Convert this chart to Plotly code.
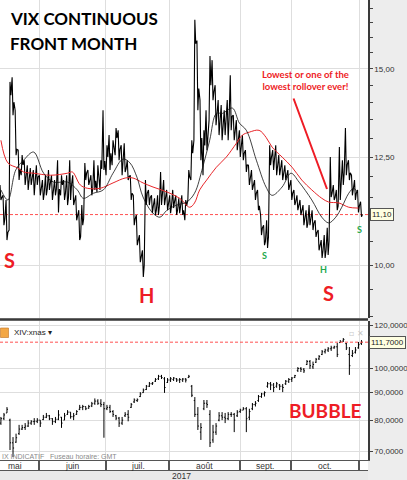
import math
import plotly.graph_objects as go

# ---------------- DATA ----------------
MONTHS = ["mai", "juin", "juil.", "août", "sept.", "oct."]
YEAR_LABEL = "2017"

VIX_HIGH = [11.8, 11.55, 11.44, 14.6, 14.74, 13.77, 12.68, 12.55, 12.42, 12.29,
            12.22, 12.17, 12.29, 12.04, 11.92, 12.04, 12.17, 12.04, 11.92, 12.42,
            12.04, 11.92, 12.04, 12.42, 12.04, 11.55, 11.2, 11.32, 12.35, 12.17,
            12.04, 12.42, 12.29, 12.42, 13.77, 12.81, 13.08, 12.94, 13.27, 13.21,
            12.81, 12.86, 12.42, 12.04, 11.55, 11.09, 10.64, 10.31, 11.92, 11.68,
            11.55, 11.48, 11.55, 12.12, 11.92, 11.68, 11.55, 11.68, 11.55, 11.48,
            11.55, 11.44, 12.17, 12.94, 16.6, 15.9, 14.06, 13.21, 13.77, 15.4,
            15.27, 14.5, 14.06, 13.92, 13.77, 14.06, 14.8, 13.63, 13.49, 13.21,
            13.08, 12.68, 12.29, 12.17, 11.92, 11.68, 11.09, 10.86, 10.97, 12.81,
            12.68, 12.81, 12.55, 12.42, 12.29, 12.17, 11.92, 11.68, 11.55, 11.44,
            11.32, 11.2, 11.32, 11.2, 10.97, 10.75, 10.53, 10.64, 10.8, 12.5,
            11.8, 11.68, 12.76, 12.42, 13.27, 12.42, 12.04, 11.92, 11.68, 11.4]
VIX_LOW = [11.44, 10.86, 10.53, 10.75, 13.63, 12.55, 11.92, 12.04, 11.8, 11.68,
           11.8, 11.55, 11.8, 11.55, 11.44, 11.55, 11.68, 11.44, 11.55, 11.15,
           11.55, 11.44, 11.32, 11.44, 11.32, 10.97, 10.53, 10.86, 11.92, 11.8,
           11.55, 11.68, 11.63, 11.68, 12.17, 12.04, 12.17, 12.29, 12.55, 12.42,
           12.04, 12.12, 11.92, 11.44, 10.86, 10.42, 10.06, 9.76, 11.32, 11.32,
           11.13, 11.09, 11.09, 11.32, 11.32, 11.2, 11.13, 11.25, 11.09, 11.13,
           11.09, 10.97, 11.44, 11.92, 12.94, 13.77, 12.42, 12.04, 12.68, 13.49,
           14.06, 13.35, 13.08, 12.94, 13.08, 12.94, 13.21, 12.94, 12.68, 12.5,
           12.42, 12.12, 11.8, 11.68, 11.44, 11.2, 10.64, 10.42, 10.36, 12.29,
           12.17, 12.04, 12.04, 11.92, 11.92, 11.68, 11.44, 11.32, 11.2, 11.09,
           10.86, 10.8, 10.86, 10.75, 10.6, 10.31, 10.15, 10.15, 10.21, 11.51,
           11.44, 11.2, 11.44, 11.8, 12.04, 11.92, 11.55, 11.44, 11.15, 11.05]
VIX_CLOSE = [11.5, 11.0, 10.7, 14.2, 14.0, 12.7, 12.2, 12.3, 12.0, 11.9,
             12.0, 11.8, 12.0, 11.7, 11.6, 11.7, 11.9, 11.6, 11.7, 11.7,
             11.8, 11.6, 11.5, 11.8, 11.4, 11.1, 10.6, 11.0, 12.1, 11.9,
             11.7, 11.9, 12.0, 12.2, 12.4, 12.5, 12.6, 12.7, 13.0, 12.7,
             12.3, 12.2, 12.0, 11.6, 11.0, 10.5, 10.2, 10.0, 11.6, 11.5,
             11.3, 11.2, 11.3, 11.6, 11.5, 11.4, 11.3, 11.4, 11.2, 11.3,
             11.2, 11.3, 12.0, 12.6, 15.8, 14.4, 13.0, 12.8, 13.2, 14.5,
             14.3, 13.7, 13.5, 13.3, 13.4, 13.5, 13.6, 13.2, 13.0, 12.7,
             12.6, 12.3, 12.0, 11.8, 11.6, 11.3, 10.8, 10.5, 10.6, 12.5,
             12.4, 12.3, 12.2, 12.1, 12.0, 11.8, 11.6, 11.4, 11.3, 11.2,
             11.0, 10.9, 11.0, 10.9, 10.7, 10.4, 10.3, 10.3, 10.5, 11.6,
             11.5, 11.3, 12.0, 12.1, 12.3, 12.1, 11.7, 11.6, 11.3, 11.10]

MA_SHORT_DAY = [0, 2.3, 4.9, 7.5, 10.8, 14.1, 17.4, 22, 25.2, 27.2, 30.5, 33.8, 37,
                40.3, 42.6, 44.9, 46.9, 50.2, 52.5, 54.8, 58, 61.3, 63.9, 66.6, 68.9,
                71.1, 73.1, 76.4, 78.7, 81, 84.3, 87.5, 89.5, 92.8, 95.7, 98.4, 102.6,
                105.9, 108.2, 110.5, 112.5, 114.8, 116.4, 117.6]
MA_SHORT_VAL = [11.68, 11.44, 12.17, 12.42, 12.63, 12.09, 11.87, 11.87, 11.68, 11.48,
                11.6, 11.68, 12.09, 12.45, 12.35, 11.99, 11.51, 11.13, 11.04, 11.2,
                11.32, 11.39, 11.6, 12.24, 12.94, 13.68, 13.68, 13.83, 13.41, 13.21,
                12.42, 11.75, 11.55, 11.75, 12.09, 11.87, 11.44, 11.04, 10.91, 11.04,
                11.27, 11.6, 11.72, 11.63]
# long moving average (red)
MA_LONG_DAY = [0, 2.3, 5.6, 7.5, 10.8, 16.4, 22, 23.6, 26.2, 28.5, 32.8, 37, 41,
               43.6, 46.9, 50.2, 54.8, 59, 62.3, 63.9, 65.6, 67.9, 71.1, 74.4, 77.7,
               79.7, 82, 85.2, 87.5, 89.5, 92.8, 96.1, 99.3, 102.6, 105.9, 108.2,
               111.5, 114.8, 118]
MA_LONG_VAL = [12.94, 12.35, 12.22, 12.12, 12.09, 12.04, 12.09, 12.12, 11.8, 11.72,
               11.72, 11.85, 11.97, 11.97, 11.85, 11.75, 11.63, 11.48, 11.27, 11.37,
               11.68, 11.92, 12.24, 12.5, 12.86, 13.08, 13.16, 13.21, 13.02, 12.76,
               12.5, 12.24, 11.92, 11.68, 11.48, 11.39, 11.37, 11.27, 11.25]

XIV_OPEN = [79.0, 80.5, 82.5, 80.0, 72.6, 72.8, 75.5, 77.0, 77.5, 78.0,
            79.0, 79.5, 79.6, 80.0, 80.2, 81.0, 81.5, 80.5, 79.5, 80.3,
            81.0, 80.0, 82.0, 82.8, 81.2, 82.0, 83.8, 84.5, 84.8, 84.2,
            85.0, 86.0, 86.8, 86.0, 85.5, 84.0, 84.5, 83.0, 81.5, 80.7,
            79.0, 81.5, 82.0, 84.5, 86.5, 87.0, 88.5, 90.0, 91.2, 92.5,
            93.5, 94.5, 95.5, 96.5, 95.5, 94.0, 95.0, 95.2, 95.5, 95.0,
            95.0, 95.4, 96.0, 92.5, 87.0, 82.0, 76.0, 84.0, 86.0, 82.0,
            73.5, 76.0, 80.0, 81.5, 81.0, 80.5, 82.0, 82.0, 81.5, 83.0,
            83.5, 84.0, 81.0, 84.0, 85.5, 87.0, 88.5, 89.5, 92.5, 93.5,
            93.0, 92.5, 93.0, 92.5, 93.5, 94.5, 95.2, 96.0, 99.0, 99.8,
            99.5, 101.5, 102.8, 100.5, 102.5, 104.0, 106.0, 107.2, 108.0, 108.6,
            109.0, 109.5, 111.5, 112.2, 111.0, 106.0, 105.5, 107.0, 109.0, 111.0]
XIV_HIGH = [81.1, 82.5, 84.6, 80.5, 74.4, 75.5, 78.4, 78.4, 79.0, 80.0,
            80.0, 80.7, 80.7, 80.0, 81.8, 82.5, 81.8, 80.7, 81.1, 83.5,
            81.1, 82.5, 83.5, 82.8, 82.5, 83.5, 85.4, 85.4, 84.8, 85.4,
            86.5, 87.8, 87.5, 87.5, 86.5, 85.4, 85.4, 83.5, 81.8, 81.1,
            81.1, 82.8, 83.5, 86.1, 87.8, 87.8, 90.2, 91.6, 93.0, 94.2,
            94.2, 95.8, 97.1, 97.1, 96.2, 95.8, 96.2, 96.2, 95.8, 95.8,
            95.8, 95.8, 97.1, 93.0, 88.3, 84.6, 79.0, 87.2, 87.2, 83.5,
            78.4, 79.0, 82.8, 82.8, 82.5, 82.8, 82.8, 82.5, 83.5, 84.0,
            84.6, 84.6, 84.0, 86.1, 86.8, 89.1, 89.9, 90.5, 94.2, 94.2,
            93.8, 94.2, 93.4, 93.4, 95.0, 95.8, 96.2, 97.1, 100.4, 100.4,
            100.0, 103.5, 103.5, 102.8, 104.4, 105.7, 108.0, 108.6, 109.4, 110.0,
            110.0, 111.3, 112.7, 113.7, 111.3, 109.4, 108.0, 109.4, 111.8, 112.7]
XIV_LOW = [78.4, 80.0, 82.5, 70.4, 68.3, 72.6, 75.1, 76.7, 76.7, 77.7,
           78.4, 78.4, 79.0, 77.7, 80.0, 80.7, 80.0, 78.4, 79.0, 80.0,
           77.4, 80.0, 81.8, 80.5, 80.0, 81.8, 83.5, 83.5, 83.5, 84.0,
           84.6, 85.4, 85.4, 84.6, 74.2, 83.5, 82.5, 81.1, 80.0, 77.7,
           78.4, 81.1, 79.6, 84.3, 86.1, 86.5, 88.3, 89.9, 91.0, 92.2,
           93.0, 94.2, 95.0, 95.4, 89.9, 93.8, 94.2, 94.6, 94.2, 93.8,
           94.2, 94.0, 95.8, 88.3, 81.1, 76.7, 73.5, 83.5, 84.3, 71.3,
           72.6, 75.1, 79.6, 80.0, 79.0, 80.0, 81.1, 76.0, 81.1, 82.5,
           83.5, 76.0, 80.0, 83.5, 84.8, 86.5, 88.0, 88.5, 91.9, 91.0,
           90.2, 91.9, 91.0, 90.2, 93.0, 93.8, 94.2, 95.8, 98.3, 98.3,
           97.9, 101.3, 99.6, 99.6, 102.2, 103.5, 105.7, 106.4, 107.1, 107.6,
           108.6, 104.8, 111.3, 111.8, 108.0, 97.1, 104.8, 106.4, 108.6, 110.4]
XIV_CLOSE = [80.5, 81.8, 83.8, 72.6, 71.0, 74.2, 77.0, 77.5, 78.0, 79.0,
             79.5, 79.6, 80.0, 79.0, 81.0, 81.5, 80.5, 79.5, 80.3, 81.8,
             79.0, 81.5, 82.8, 81.2, 81.5, 83.0, 84.5, 84.8, 84.0, 84.8,
             85.8, 86.8, 86.0, 85.5, 84.0, 84.5, 83.0, 82.0, 80.7, 79.0,
             80.0, 82.0, 81.0, 85.5, 87.2, 87.3, 89.5, 91.0, 92.5, 93.5,
             93.8, 95.2, 96.5, 96.0, 92.0, 95.0, 95.5, 95.8, 95.0, 95.2,
             95.4, 95.0, 96.5, 89.0, 82.0, 78.0, 77.5, 86.0, 85.5, 72.6,
             76.0, 78.0, 81.5, 81.0, 80.5, 82.0, 82.0, 80.0, 82.8, 83.5,
             84.0, 80.5, 83.0, 85.5, 86.0, 88.5, 89.5, 90.0, 93.5, 93.0,
             92.0, 93.5, 92.5, 92.0, 94.5, 95.2, 95.8, 96.8, 99.8, 99.5,
             98.8, 102.8, 101.0, 101.5, 103.8, 105.0, 107.2, 108.0, 108.6, 109.0,
             109.5, 106.0, 112.0, 113.0, 109.0, 101.0, 106.5, 108.0, 110.5, 111.7]

VIX_TICKS = [10, 12.5, 15]
XIV_TICKS = [70, 80, 90, 100, 120]

# ---------------- LAYOUT CONSTANTS ----------------
W, H = 407, 480
PLOT_W = 368            # plot area width (px)
PLOT_H = 460            # plot area height incl. both panels (px)
X_RANGE = [-0.3, 121.15]
MONTH_EDGES = [12.57, 34.68, 55.48, 78.91, 95.74, 118.18]
MONTH_LABEL_POS = [4.65, 23.6, 45.1, 67.2, 87.3, 107.0]
TOP_RANGE = [8.965, 17.29]
BOT_RANGE = [67.45, 122.3]
TOP_DOMAIN = [1 - 318 / PLOT_H, 1]
BOT_DOMAIN = [0, (PLOT_H - 321) / PLOT_H]

def px(xp):
    return xp / PLOT_W

def py(yp):
    return 1 - yp / PLOT_H

def fmt(v, nd):
    return f"{v:.{nd}f}".replace(".", ",")

# ---------------- VIX line path ----------------
vx, vy = [], []
for i, (h, l, c) in enumerate(zip(VIX_HIGH, VIX_LOW, VIX_CLOSE)):
    if abs(h - c) < abs(l - c):
        e1, e2 = l, h
    else:
        e1, e2 = h, l
    vx += [i - 0.3, i, i + 0.3]
    vy += [e1, e2, c]

days = list(range(len(XIV_CLOSE)))

fig = go.Figure()

fig.add_trace(go.Scatter(x=X_RANGE, y=[VIX_CLOSE[-1]] * 2, mode="lines",
                         line=dict(color="#ff5050", width=1, dash="3px,2px"),
                         xaxis="x", yaxis="y", hoverinfo="skip"))
fig.add_trace(go.Scatter(x=vx, y=vy, mode="lines", line=dict(color="black", width=1.1),
                         xaxis="x", yaxis="y"))
fig.add_trace(go.Scatter(x=MA_LONG_DAY, y=MA_LONG_VAL, mode="lines",
                         line=dict(color="#e8262a", width=1, shape="spline", smoothing=1.0),
                         xaxis="x", yaxis="y"))
fig.add_trace(go.Scatter(x=MA_SHORT_DAY, y=MA_SHORT_VAL, mode="lines",
                         line=dict(color="#111111", width=0.8, shape="spline", smoothing=1.0),
                         xaxis="x", yaxis="y"))

fig.add_trace(go.Scatter(x=X_RANGE, y=[XIV_CLOSE[-1]] * 2, mode="lines",
                         line=dict(color="#ff5050", width=1, dash="3px,2px"),
                         xaxis="x2", yaxis="y2", hoverinfo="skip"))
fig.add_trace(go.Ohlc(x=days, open=XIV_OPEN, high=XIV_HIGH, low=XIV_LOW, close=XIV_CLOSE,
                      increasing=dict(line=dict(color="black", width=1)),
                      decreasing=dict(line=dict(color="black", width=1)),
                      tickwidth=0.35, xaxis="x2", yaxis="y2"))

GRID = "#dedede"
TICKFONT = dict(family="Liberation Sans, Arial, sans-serif", size=8, color="#333333")

fig.update_layout(
    width=W, height=H,
    margin=dict(l=0, r=W - PLOT_W, t=0, b=H - PLOT_H, pad=0, autoexpand=False),
    paper_bgcolor="#ededed", plot_bgcolor="white",
    showlegend=False,
    xaxis=dict(domain=[0, 1], range=X_RANGE, anchor="y", tickmode="array",
               tickvals=MONTH_EDGES, showticklabels=False, ticks="", automargin=False,
               showgrid=True, gridcolor=GRID, zeroline=False, fixedrange=True),
    xaxis2=dict(domain=[0, 1], range=X_RANGE, anchor="y2", matches="x", tickmode="array",
                tickvals=MONTH_EDGES, showticklabels=False, ticks="outside", ticklen=10,
                tickcolor="#555555", tickwidth=1.5, showline=True, linecolor="#555555",
                linewidth=1, showgrid=True, gridcolor=GRID, zeroline=False, automargin=False,
                rangeslider=dict(visible=False)),
    yaxis=dict(domain=TOP_DOMAIN, type="log", automargin=False,
               range=[math.log10(TOP_RANGE[0]), math.log10(TOP_RANGE[1])],
               side="right", anchor="x", tickmode="array", tickvals=VIX_TICKS,
               ticktext=[fmt(v, 2) for v in VIX_TICKS], ticks="outside", ticklen=3,
               tickcolor="#444444", tickfont=TICKFONT, showline=True, linecolor="#3a3a3a",
               linewidth=1.5, showgrid=True, gridcolor=GRID, zeroline=False,
               minor=dict(tickmode="array",
                          tickvals=[9.0, 9.5, 10.5, 11.0, 11.5, 12.0, 13.0, 13.5, 14.0, 14.5,
                                    15.5, 16.0, 16.5, 17.0],
                          ticks="outside", ticklen=3, tickcolor="#444444", showgrid=False)),
    yaxis2=dict(domain=BOT_DOMAIN, type="log", automargin=False,
                range=[math.log10(BOT_RANGE[0]), math.log10(BOT_RANGE[1])],
                side="right", anchor="x2", tickmode="array", tickvals=XIV_TICKS,
                ticktext=[fmt(v, 4) for v in XIV_TICKS], ticks="outside", ticklen=3,
                tickcolor="#444444", tickfont=TICKFONT, showline=True, linecolor="#3a3a3a",
                linewidth=1.5, showgrid=True, gridcolor=GRID, zeroline=False),
)

shapes = [
    # separator between panels
    dict(type="line", xref="paper", yref="paper", x0=0, x1=1, y0=py(319.5), y1=py(319.5),
         line=dict(color="#3a3a3a", width=2.5)),
    # month axis band
    dict(type="rect", xref="paper", yref="paper", x0=0, x1=1, y0=py(470), y1=py(460),
         fillcolor="white", line=dict(width=0), layer="below"),
    dict(type="line", xref="paper", yref="paper", x0=0, x1=1, y0=py(470.5), y1=py(470.5),
         line=dict(color="#555555", width=1)),
    # year band
    dict(type="rect", xref="paper", yref="paper", x0=0, x1=1, y0=py(480), y1=py(471),
         fillcolor="#e9e9e9", line=dict(width=0), layer="below"),
    # instrument icon
    dict(type="rect", xref="paper", yref="paper", x0=px(0.5), x1=px(8.5), y0=py(337.5),
         y1=py(328), fillcolor="#f3a745", line=dict(color="#c07020", width=0.6)),
]
fig.update_layout(shapes=shapes)

ann = []
BOLD = "Lato, 'Open Sans', sans-serif"
ann.append(dict(text="<b>VIX CONTINUOUS</b>", x=px(8), y=py(19), xanchor="left",
                yanchor="middle", font=dict(family=BOLD, size=17, color="black")))
ann.append(dict(text="<b>FRONT MONTH</b>", x=px(8), y=py(43), xanchor="left",
                yanchor="middle", font=dict(family=BOLD, size=17, color="black")))
ann.append(dict(text="<b>Lowest or one of the<br>lowest rollover ever!</b>", x=px(305),
                y=py(80), xanchor="center", yanchor="middle", align="center",
                font=dict(family=BOLD, size=9.5, color="#ee1c25")))
ann.append(dict(text="", x=px(327), y=py(189), ax=293 - 327, ay=97 - 189, showarrow=True,
                arrowhead=0, arrowwidth=2, arrowcolor="#ee1c25", standoff=0, startstandoff=0))
for t, xp, yp, sz, col in [("S", 9, 260, 20, "#ee1c25"), ("H", 146, 295, 20, "#ee1c25"),
                           ("S", 328, 293, 20, "#ee1c25"), ("S", 264, 255, 9, "#22a84a"),
                           ("H", 323, 269, 9, "#22a84a"), ("S", 359, 229, 9, "#22a84a")]:
    ann.append(dict(text=f"<b>{t}</b>", x=px(xp), y=py(yp), xanchor="center",
                    yanchor="middle", font=dict(family=BOLD, size=sz, color=col)))
ann.append(dict(text="<b>BUBBLE</b>", x=px(325), y=py(410), xanchor="center",
                yanchor="middle", font=dict(family=BOLD, size=19, color="#ee1c25")))
ann.append(dict(text="XIV:xnas ▾", x=px(12), y=py(332.5), xanchor="left", yanchor="middle",
                font=dict(family="Liberation Sans, Arial", size=8, color="#222222")))
ann.append(dict(text="▫ ✕", x=px(356), y=py(333), xanchor="center", yanchor="middle",
                font=dict(family="DejaVu Sans", size=8, color="#c8c8c8")))
ann.append(dict(text="IX INDICATIF &nbsp; Fuseau horaire: GMT", x=px(0), y=py(456),
                xanchor="left", yanchor="middle",
                font=dict(family="Liberation Sans, Arial", size=7, color="#8a8a8a")))
for m, pos in zip(MONTHS, MONTH_LABEL_POS):
    ann.append(dict(text=m, x=pos, xref="x2", y=py(465.5), yref="paper", xanchor="center",
                    yanchor="middle", font=dict(family="Liberation Sans, Arial", size=8.5,
                                                color="#333333")))
ann.append(dict(text=YEAR_LABEL, x=px(181), y=py(475.5), xanchor="center", yanchor="middle",
                font=dict(family="Liberation Sans, Arial", size=8.5, color="#333333")))
# last value boxes
ann.append(dict(text=fmt(VIX_CLOSE[-1], 2), x=1, xshift=2, xanchor="left", yref="y",
                y=math.log10(VIX_CLOSE[-1]), yanchor="middle", bgcolor="#ffffe1",
                bordercolor="#555555", borderwidth=1, borderpad=1,
                font=dict(family="Liberation Sans, Arial", size=8, color="#222222")))
ann.append(dict(text=fmt(XIV_CLOSE[-1], 4), x=1, xshift=1, xanchor="left", yref="y2",
                y=math.log10(XIV_CLOSE[-1]), yanchor="middle", bgcolor="#ffffe1",
                bordercolor="#555555", borderwidth=1, borderpad=1,
                font=dict(family="Liberation Sans, Arial", size=8, color="#222222")))

for a in ann:
    a.setdefault("xref", "paper")
    a.setdefault("yref", "paper")
    a.setdefault("showarrow", False)
fig.update_layout(annotations=ann)

fig.write_html("out.html", config={"displayModeBar": False},
               post_script="document.body.style.margin='0';document.body.style.padding='0';")
